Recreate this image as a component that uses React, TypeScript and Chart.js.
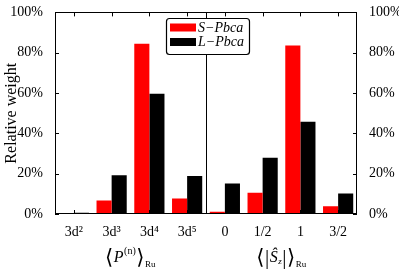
import React, { useEffect, useRef } from "react";
import { Chart, registerables } from "chart.js";

Chart.register(...registerables);

const categories = ["3d²", "3d³", "3d⁴", "3d⁵", "0", "1/2", "1", "3/2"];
const sPbca = [0, 6.7, 84.4, 7.7, 1.1, 10.5, 83.6, 3.9];
const lPbca = [0.6, 19.2, 59.6, 18.9, 15.1, 27.9, 45.8, 10.2];
const yTicks = [0, 20, 40, 60, 80, 100];
const seriesLabels = ["S\u2212Pbca", "L\u2212Pbca"];
const seriesColors = ["#ff0000", "#000000"];

const SERIF = "'Liberation Serif', 'DejaVu Serif', serif";

const framePlugin = {
  id: "framePlugin",
  afterDraw(chart: any) {
    const ctx = chart.ctx as CanvasRenderingContext2D;
    const a = chart.chartArea;
    const x = chart.scales.x;
    const y = chart.scales.y;
    ctx.save();
    ctx.strokeStyle = "#000";
    ctx.lineWidth = 1;
    ctx.strokeRect(Math.round(a.left) + 0.5, Math.round(a.top) + 0.5, Math.round(a.right - a.left) - 1, Math.round(a.bottom - a.top) - 1);
    ctx.beginPath();
    const tl = 4;
    yTicks.forEach((v) => {
      const py = Math.round(y.getPixelForValue(v)) + 0.5;
      ctx.moveTo(a.left, py);
      ctx.lineTo(a.left + tl, py);
      ctx.moveTo(a.right, py);
      ctx.lineTo(a.right - tl, py);
    });
    categories.forEach((_, i) => {
      const px = Math.round(x.getPixelForValue(i)) + 0.5;
      ctx.moveTo(px, a.top);
      ctx.lineTo(px, a.top + tl);
      ctx.moveTo(px, a.bottom);
      ctx.lineTo(px, a.bottom - tl);
    });
    const dx = Math.round((x.getPixelForValue(3) + x.getPixelForValue(4)) / 2) + 0.5;
    ctx.moveTo(dx, a.top);
    ctx.lineTo(dx, a.bottom);
    ctx.stroke();

    // legend
    const lx = 166.5, ly = 18.5, lw = 83, lh = 36, r = 3;
    ctx.fillStyle = "#fff";
    ctx.beginPath();
    ctx.moveTo(lx + r, ly);
    ctx.lineTo(lx + lw - r, ly);
    ctx.arcTo(lx + lw, ly, lx + lw, ly + r, r);
    ctx.lineTo(lx + lw, ly + lh - r);
    ctx.arcTo(lx + lw, ly + lh, lx + lw - r, ly + lh, r);
    ctx.lineTo(lx + r, ly + lh);
    ctx.arcTo(lx, ly + lh, lx, ly + lh - r, r);
    ctx.lineTo(lx, ly + r);
    ctx.arcTo(lx, ly, lx + r, ly, r);
    ctx.closePath();
    ctx.fill();
    ctx.lineWidth = 1.2;
    ctx.stroke();
    ctx.font = `italic 14px ${SERIF}`;
    ctx.textBaseline = "middle";
    ctx.textAlign = "left";
    seriesLabels.forEach((lab, i) => {
      const sy = 23.5 + i * 14.5;
      ctx.fillStyle = seriesColors[i];
      ctx.fillRect(170, sy, 26, 8);
      ctx.fillStyle = "#000";
      ctx.fillText(lab, 198, sy + 4.5);
    });

    // group labels
    const drawGroup = (cx: number, kind: number) => {
      const by = 258;
      const parts: { t: string; f: string; dy: number }[] =
        kind === 0
          ? [
              { t: "\u27E8", f: `21px ${SERIF}`, dy: 0 },
              { t: "P", f: `italic 16px ${SERIF}`, dy: 0 },
              { t: "(n)", f: `10px ${SERIF}`, dy: -7 },
              { t: "\u27E9", f: `21px ${SERIF}`, dy: 0 },
              { t: "Ru", f: `9px ${SERIF}`, dy: 7 },
            ]
          : [
              { t: "\u27E8", f: `21px ${SERIF}`, dy: 0 },
              { t: "|", f: `21px ${SERIF}`, dy: 0 },
              { t: "\u015C", f: `italic 16px ${SERIF}`, dy: 0 },
              { t: "z", f: `italic 9px ${SERIF}`, dy: 4 },
              { t: "|", f: `21px ${SERIF}`, dy: 0 },
              { t: "\u27E9", f: `21px ${SERIF}`, dy: 0 },
              { t: "Ru", f: `9px ${SERIF}`, dy: 7 },
            ];
      let total = 0;
      const widths = parts.map((p) => {
        ctx.font = p.f;
        const w = ctx.measureText(p.t).width + 0.5;
        total += w;
        return w;
      });
      let px = cx - total / 2;
      ctx.fillStyle = "#000";
      ctx.textBaseline = "middle";
      parts.forEach((p, i) => {
        ctx.font = p.f;
        ctx.fillText(p.t, px, by + p.dy);
        px += widths[i];
      });
    };
    const g1 = (x.getPixelForValue(0) + x.getPixelForValue(3)) / 2;
    const g2 = (x.getPixelForValue(4) + x.getPixelForValue(7)) / 2;
    drawGroup(g1, 0);
    drawGroup(g2, 1);
    ctx.restore();
  },
};

export default function App() {
  const ref = useRef<HTMLCanvasElement>(null);
  useEffect(() => {
    if (!ref.current) return;
    const tickFont = { family: SERIF, size: 14 };
    const chart = new Chart(ref.current, {
      type: "bar",
      data: {
        labels: categories,
        datasets: [
          { label: seriesLabels[0], data: sPbca, backgroundColor: seriesColors[0], borderWidth: 0 },
          { label: seriesLabels[1], data: lPbca, backgroundColor: seriesColors[1], borderWidth: 0 },
        ],
      },
      options: {
        animation: false,
        responsive: false,
        maintainAspectRatio: false,
        layout: { padding: { top: 11, left: 0, right: 0, bottom: 0 } },
        datasets: { bar: { categoryPercentage: 0.8, barPercentage: 1.0 } },
        plugins: { legend: { display: false }, tooltip: { enabled: false } },
        scales: {
          x: {
            grid: { display: false },
            border: { display: false },
            ticks: { color: "#000", font: tickFont, padding: 2, maxRotation: 0 },
            afterFit: (s: any) => {
              s.height = 65;
            },
          },
          y: {
            position: "left",
            min: 0,
            max: 100,
            grid: { display: false },
            border: { display: false },
            ticks: {
              stepSize: 20,
              color: "#000",
              font: tickFont,
              padding: 4,
              callback: (v: any) => v + "%",
            },
            title: {
              display: true,
              text: "Relative weight",
              color: "#000",
              font: { family: SERIF, size: 16 },
              padding: { top: 2, bottom: 0 },
            },
            afterFit: (s: any) => {
              s.width = 55;
            },
          },
          y2: {
            position: "right",
            min: 0,
            max: 100,
            grid: { display: false },
            border: { display: false },
            ticks: {
              stepSize: 20,
              color: "#000",
              font: tickFont,
              padding: 4,
              callback: (v: any) => v + "%",
            },
            afterFit: (s: any) => {
              s.width = 42;
            },
          },
        },
      },
      plugins: [framePlugin],
    } as any);
    return () => chart.destroy();
  }, []);
  return (
    <div style={{ position: "fixed", left: 0, top: 0, width: 399, height: 279, background: "#fff" }}>
      <canvas ref={ref} width={399} height={279} style={{ width: 399, height: 279, display: "block" }} />
    </div>
  );
}
